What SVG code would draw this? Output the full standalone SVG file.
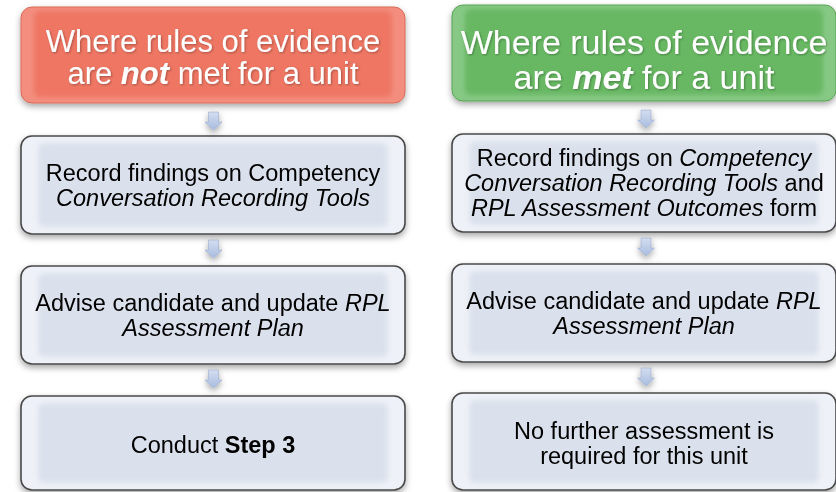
<svg xmlns="http://www.w3.org/2000/svg" width="836" height="492" viewBox="0 0 836 492">
<defs>
  <filter id="shadow" x="-10%" y="-20%" width="120%" height="150%">
    <feDropShadow dx="0" dy="3" stdDeviation="3" flood-color="#000" flood-opacity="0.35"/>
  </filter>
  <filter id="soft" x="-10%" y="-20%" width="120%" height="140%">
    <feGaussianBlur stdDeviation="2.5"/>
  </filter>
  <filter id="tshadow" x="-5%" y="-20%" width="110%" height="140%">
    <feDropShadow dx="1" dy="1" stdDeviation="1" flood-color="#000" flood-opacity="0.3"/>
  </filter>
  <linearGradient id="arrowGrad" x1="0" y1="0" x2="0" y2="1">
    <stop offset="0" stop-color="#d3ddef"/>
    <stop offset="1" stop-color="#a8bce0"/>
  </linearGradient>
  <symbol id="arrow" overflow="visible">
    <path d="M-5,0 L5,0 L5,10 L8.5,10 L0,18 L-8.5,10 L-5,10 Z" fill="url(#arrowGrad)" stroke="#9aaccc" stroke-width="0.6"/>
  </symbol>
</defs>
<style>
  .gray { fill: #eef1f7; stroke: #4a4a4a; stroke-width: 1.6; }
  .grayin { fill: #dbe1ec; }
  .red { fill: #f38e7e; stroke: #d96a58; stroke-width: 1; }
  .redin { fill: #ee7663; }
  .green { fill: #86c884; stroke: #57a354; stroke-width: 1; }
  .greenin { fill: #67b864; }
  .t { font-family: "Liberation Sans", Arial, sans-serif; text-anchor: middle; }
  .title { fill: #ffffff; }
  .body { fill: #000000; font-size: 23.5px; }
  .i { font-style: italic; }
  .b { font-weight: bold; }
</style>

<!-- Left column -->
<g id="left-title" filter="url(#shadow)">
  <rect x="21" y="7" width="384" height="96" rx="11" class="red"/>
  <rect x="34" y="11" width="358" height="86" rx="6" class="redin" filter="url(#soft)"/>
  <text class="t title" font-size="31" filter="url(#tshadow)"><tspan x="213" y="51.5">Where rules of evidence</tspan><tspan x="213" y="84">are <tspan class="b i">not</tspan> met for a unit</tspan></text>
</g>
<g id="left-record" filter="url(#shadow)">
  <rect x="21" y="136" width="384" height="98" rx="11" class="gray"/>
  <rect x="38" y="143" width="350" height="84" rx="6" class="grayin" filter="url(#soft)"/>
  <text class="t body"><tspan x="213" y="180.5">Record findings on Competency</tspan><tspan x="213" y="205.5" class="i">Conversation Recording Tools</tspan></text>
</g>
<g id="left-advise" filter="url(#shadow)">
  <rect x="21" y="266" width="384" height="98" rx="11" class="gray"/>
  <rect x="38" y="273" width="350" height="84" rx="6" class="grayin" filter="url(#soft)"/>
  <text class="t body"><tspan x="213" y="310.5">Advise candidate and update <tspan class="i">RPL</tspan></tspan><tspan x="213" y="335.5" class="i">Assessment Plan</tspan></text>
</g>
<g id="left-step3" filter="url(#shadow)">
  <rect x="21" y="396" width="384" height="94" rx="11" class="gray"/>
  <rect x="38" y="403" width="350" height="80" rx="6" class="grayin" filter="url(#soft)"/>
  <text class="t body" x="213" y="453">Conduct <tspan class="b">Step 3</tspan></text>
</g>

<!-- Right column -->
<g id="right-title" filter="url(#shadow)">
  <rect x="452" y="5" width="384" height="96" rx="11" class="green"/>
  <rect x="465" y="9" width="358" height="86" rx="6" class="greenin" filter="url(#soft)"/>
  <text class="t title" font-size="34" filter="url(#tshadow)"><tspan x="644" y="54">Where rules of evidence</tspan><tspan x="644" y="89">are <tspan class="b i">met</tspan> for a unit</tspan></text>
</g>
<g id="right-record" filter="url(#shadow)">
  <rect x="452" y="134" width="384" height="98" rx="11" class="gray"/>
  <rect x="469" y="141" width="350" height="84" rx="6" class="grayin" filter="url(#soft)"/>
  <text class="t body"><tspan x="644" y="166">Record findings on <tspan class="i">Competency</tspan></tspan><tspan x="644" y="191"><tspan class="i">Conversation Recording Tools</tspan> and</tspan><tspan x="644" y="216"><tspan class="i">RPL Assessment Outcomes</tspan> form</tspan></text>
</g>
<g id="right-advise" filter="url(#shadow)">
  <rect x="452" y="264" width="384" height="98" rx="11" class="gray"/>
  <rect x="469" y="271" width="350" height="84" rx="6" class="grayin" filter="url(#soft)"/>
  <text class="t body"><tspan x="644" y="308.5">Advise candidate and update <tspan class="i">RPL</tspan></tspan><tspan x="644" y="333.5" class="i">Assessment Plan</tspan></text>
</g>
<g id="right-nofurther" filter="url(#shadow)">
  <rect x="452" y="393" width="384" height="97" rx="11" class="gray"/>
  <rect x="469" y="400" width="350" height="83" rx="6" class="grayin" filter="url(#soft)"/>
  <text class="t body"><tspan x="644" y="439">No further assessment is</tspan><tspan x="644" y="464">required for this unit</tspan></text>
</g>

<!-- Connectors -->
<g id="connectors" filter="url(#shadow)">
  <use href="#arrow" x="213.5" y="112"/>
  <use href="#arrow" x="213.5" y="240"/>
  <use href="#arrow" x="213.5" y="370"/>
  <use href="#arrow" x="646" y="110"/>
  <use href="#arrow" x="646" y="238"/>
  <use href="#arrow" x="646" y="368"/>
</g>
</svg>
